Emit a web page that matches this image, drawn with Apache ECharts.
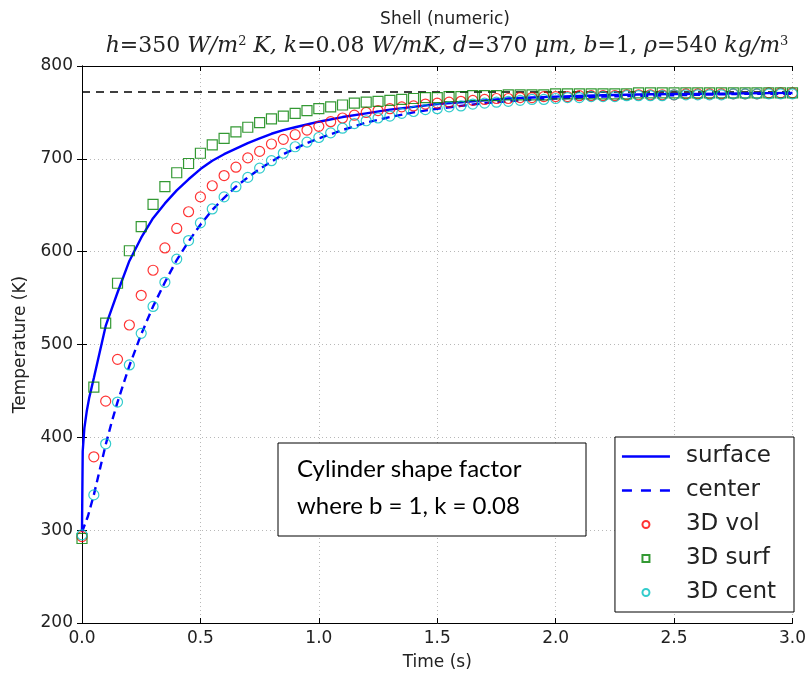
<!DOCTYPE html>
<html>
<head>
<meta charset="utf-8">
<script src="https://cdn.jsdelivr.net/npm/echarts@6/dist/echarts.min.js"></script>
<style>html,body{margin:0;padding:0;background:#fff;}#c{width:809px;height:677px;}</style>
</head>
<body>
<div id="c"></div>
<script>
// marker sample times (s)
const markT = [0,0.05,0.1,0.15,0.2,0.25,0.3,0.35,0.4,0.45,0.5,0.55,0.6,0.65,0.7,0.75,0.8,0.85,0.9,0.95,
  1.0,1.05,1.1,1.15,1.2,1.25,1.3,1.35,1.4,1.45,1.5,1.55,1.6,1.65,1.7,1.75,1.8,1.85,1.9,1.95,
  2.0,2.05,2.1,2.15,2.2,2.25,2.3,2.35,2.4,2.45,2.5,2.55,2.6,2.65,2.7,2.75,2.8,2.85,2.9,2.95,3.0];
// 3D vol (red circles)
const vol3D = [293,379,439,484,521,553,580,604,625,643,659,671,682,691,701,708,716,721,726,731,
  735,740,744,747,750,752,754,756,757,759,760,761,762,763,764,765,765,766,766,767,
  767,767,768,768,768,768,769,769,769,769,769,770,770,770,770,770,770,770,771,771,771];
// 3D surf (green squares)
const surf3D = [291,454,523,566,601,627,651,670,685,695,706,715,722,729,734,739,743,746,749,752,
  754,756,758,760,761,762,763,764,765,766,766,767,767,768,768,768,769,769,769,769,
  770,770,770,770,770,770,770,771,771,771,771,771,771,771,771,771,771,771,771,771,771];
// 3D cent (cyan circles)
const cent3D = [295,338,393,438,478,512,541,567,592,612,631,646,659,670,680,690,698,706,713,718,
  723,728,733,738,741,744,746,749,751,753,754,756,757,759,760,761,762,763,764,764,
  765,766,766,767,767,767,768,768,768,768,769,769,769,769,769,770,770,770,770,770,770];
// surface curve
const surfT = [0,0.003,0.01,0.02,0.03,0.04,0.05,0.075,0.1,0.125,0.15,0.2,0.25,0.3,0.35,0.4,0.45,0.5,0.55,0.6,
  0.65,0.7,0.75,0.8,0.85,0.9,0.95,1.0,1.1,1.2,1.3,1.4,1.5,1.6,1.7,1.8,1.9,2.0,2.2,2.4,2.6,2.8,3.0];
const surfV = [300,385,410,428,442,453,464,492,520,538,556,590,615,636,652,666,678,689,698,705,
  711,717,722,727,731,734,737,740,745,749,753,756,759,761,763,765,766,767,768.5,769.5,770,770.5,771];
// center curve
const centT = [0,0.025,0.05,0.075,0.1,0.125,0.15,0.2,0.25,0.3,0.35,0.4,0.45,0.5,0.55,0.6,0.65,0.7,0.75,0.8,
  0.85,0.9,0.95,1.0,1.1,1.2,1.3,1.4,1.5,1.6,1.7,1.8,1.9,2.0,2.2,2.4,2.6,2.8,3.0];
const centV = [298,315,338,365,392,416,438,477,511,541,567,591,611,629,645,658,670,680,689,697,
  705,711,717,722,731,739,745,750,754,757,760,762,764,765,767,768,769,770,770];
// reference (ambient) temperature
const refT = [0,3.0];
const refV = [772,772];
const xTicks = ['0.0','0.5','1.0','1.5','2.0','2.5','3.0'];
const seriesNames = ['surface','center','3D vol','3D surf','3D cent'];

const zip = (a,b) => a.map((v,i) => [v,b[i]]);
const chart = echarts.init(document.getElementById('c'), null, {renderer:'canvas'});
const tickFont = {fontFamily:'DejaVu Sans', fontSize:17, color:'#222'};
const grid = {left:82, right:12, top:66, bottom:54, containLabel:false};
const baseAxisLine = {show:true, lineStyle:{color:'#000', width:1}};
const baseTick = {show:true, inside:true, length:5, lineStyle:{color:'#000', width:1}};
const splitLine = {show:true, lineStyle:{color:'#b8b8b8', type:[1,3], width:1}};

const legendIcons = {
  'surface':'path://M0,0h48v2.4h-48z',
  'center':'path://M0,0h10v2.4h-10z M19,0h10v2.4h-10z M38,0h10v2.4h-10z',
  '3D vol':'circle',
  '3D surf':'path://M0,0h10v10h-10z',
  '3D cent':'circle'
};

chart.setOption({
  backgroundColor:'#fff',
  animation:false,
  title:[
    {text:'Shell (numeric)', left:440, top:6, textAlign:'center',
     textStyle:{fontFamily:'DejaVu Sans', fontSize:17, fontWeight:'normal', color:'#222'}},
    {text:'{i|h}{n|=350 }{i|W/m}{s|2}{i| K, k}{n|=0.08 }{i|W/mK, d}{n|=370 }{i|μm, b}{n|=1, }{i|ρ}{n|=540 }{i|kg/m}{s|3}',
     left:442, top:30, textAlign:'center',
     textStyle:{fontWeight:'normal', rich:{
       i:{fontFamily:'DejaVu Serif', fontStyle:'italic', fontWeight:'normal', fontSize:22, color:'#222'},
       n:{fontFamily:'DejaVu Serif', fontWeight:'normal', fontSize:22, color:'#222'},
       s:{fontFamily:'DejaVu Serif', fontWeight:'normal', fontSize:13, color:'#222', verticalAlign:'top'}
     }}}
  ],
  grid:grid,
  legend:{
    data:seriesNames.map(n => ({name:n, icon:legendIcons[n]})),
    orient:'vertical',
    right:15, top:437,
    itemWidth:48, itemHeight:7, itemGap:11,
    padding:[8,18,8,7],
    borderColor:'#000', borderWidth:1, backgroundColor:'#fff',
    textStyle:{fontFamily:'DejaVu Sans', fontSize:23, color:'#222', padding:[0,0,0,11]}
  },
  xAxis:[
    {type:'value', min:0, max:3, interval:0.5, position:'bottom',
     axisLine:baseAxisLine, axisTick:baseTick, splitLine:splitLine,
     axisLabel:Object.assign({margin:7, formatter:(v)=>xTicks[Math.round(v/0.5)]}, tickFont),
     name:'Time (s)', nameLocation:'middle', nameGap:31,
     nameTextStyle:{fontFamily:'DejaVu Sans', fontSize:17, color:'#222'}},
    {type:'value', min:0, max:3, interval:0.5, position:'top',
     axisLine:baseAxisLine, axisTick:baseTick, splitLine:{show:false}, axisLabel:{show:false}}
  ],
  yAxis:[
    {type:'value', min:200, max:800, interval:100, position:'left',
     axisLine:baseAxisLine, axisTick:baseTick, splitLine:splitLine,
     axisLabel:Object.assign({margin:9}, tickFont),
     name:'Temperature (K)', nameLocation:'middle', nameGap:53,
     nameTextStyle:{fontFamily:'DejaVu Sans', fontSize:17, color:'#222'}},
    {type:'value', min:200, max:800, interval:100, position:'right',
     axisLine:baseAxisLine, axisTick:baseTick, splitLine:{show:false}, axisLabel:{show:false}}
  ],
  series:[
    {name:'surface', type:'line', data:zip(surfT,surfV), showSymbol:false, symbol:'none',
     lineStyle:{color:'#0000ff', width:2.4}, itemStyle:{color:'#0000ff'}, z:2},
    {name:'center', type:'line', data:zip(centT,centV), showSymbol:false, symbol:'none',
     lineStyle:{color:'#0000ff', width:2.4, type:[8,5]}, itemStyle:{color:'#0000ff'}, z:2},
    {name:'ref', type:'line', data:zip(refT,refV), showSymbol:false, symbol:'none',
     lineStyle:{color:'#000', width:1.3, type:[8,6]}, z:1},
    {name:'3D vol', type:'scatter', data:zip(markT,vol3D), symbol:'circle', symbolSize:10,
     itemStyle:{color:'transparent', borderColor:'#ff0000', borderWidth:1.2}, z:3},
    {name:'3D surf', type:'scatter', data:zip(markT,surf3D), symbol:'rect', symbolSize:10,
     itemStyle:{color:'transparent', borderColor:'#008000', borderWidth:1.2}, z:3},
    {name:'3D cent', type:'scatter', data:zip(markT,cent3D), symbol:'circle', symbolSize:10,
     itemStyle:{color:'transparent', borderColor:'#00bfbf', borderWidth:1.2}, z:3}
  ],
  graphic:[
    {type:'rect', shape:{x:278, y:443, width:308, height:93},
     style:{fill:'#fff', stroke:'#000', lineWidth:1}, z:10},
    {type:'text', x:297, y:451,
     style:{text:'Cylinder shape factor\nwhere b = 1, k = 0.08', fontFamily:'Lato', fontSize:24,
       lineHeight:37, fill:'#000'}, z:11}
  ]
});
</script>
</body>
</html>
